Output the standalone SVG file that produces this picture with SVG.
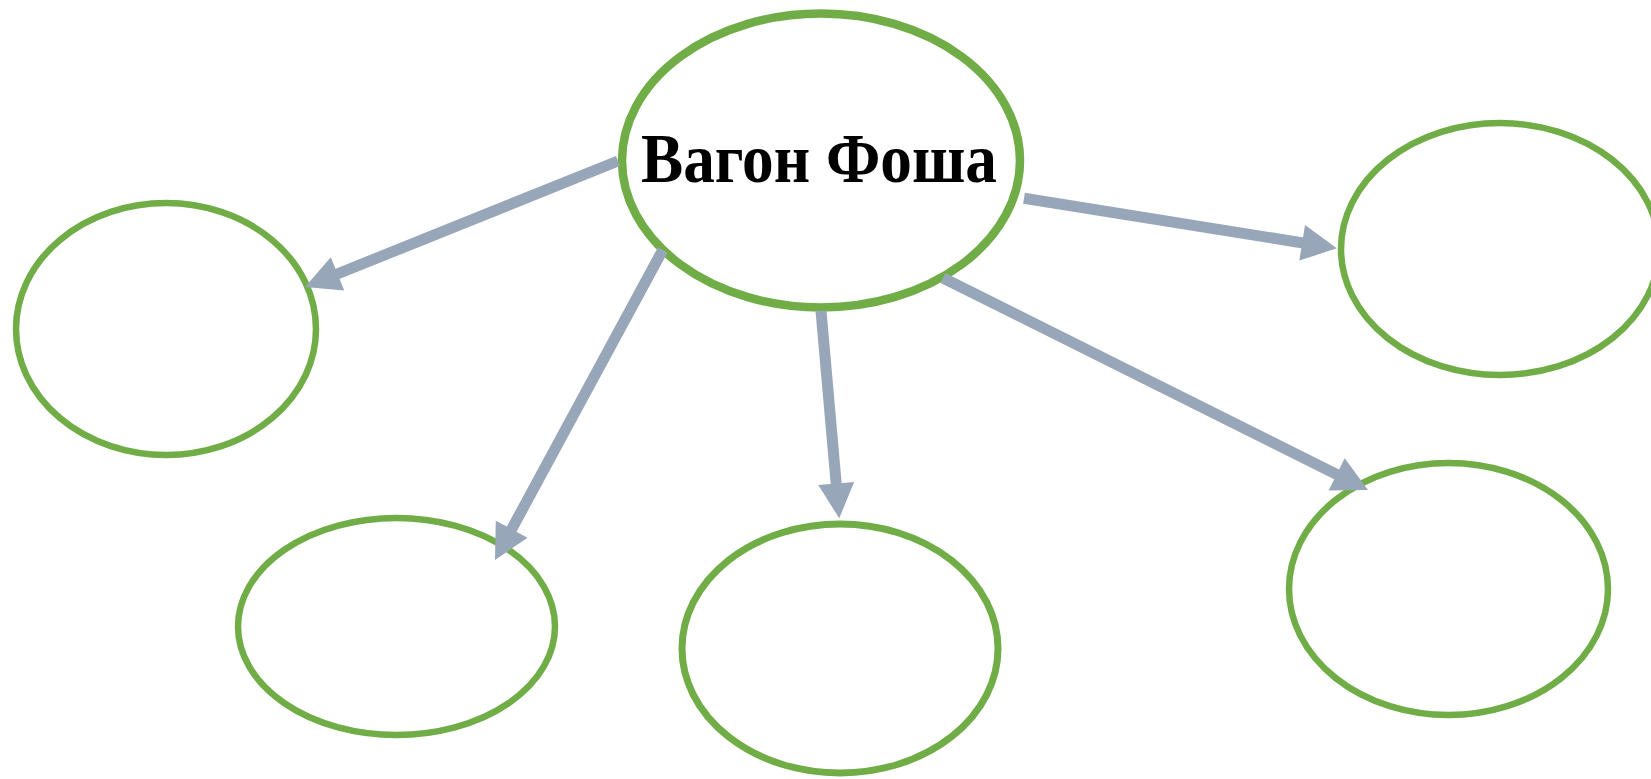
<svg xmlns="http://www.w3.org/2000/svg" width="1651" height="779" viewBox="0 0 1651 779">
  <style>
    .node { fill: #FFFFFF; stroke: #70AD47; stroke-width: 6.5; }
    .main { stroke-width: 8.5; }
    .conn { stroke: #97A6B8; stroke-width: 11; fill: none; marker-end: url(#arrow); }
    .title { font-family: "Liberation Serif", "Times New Roman", serif; font-weight: bold; font-size: 69px; fill: #000000; }
  </style>
  <defs>
    <marker id="arrow" markerUnits="userSpaceOnUse" markerWidth="36" markerHeight="36" refX="15" refY="18" orient="auto" overflow="visible">
      <path d="M0,0 L35,18 L0,36 Z" fill="#97A6B8"/>
    </marker>
  </defs>
  <rect width="1651" height="779" fill="#FFFFFF"/>
  <g id="node-main">
    <ellipse class="node main" cx="821" cy="160.5" rx="199" ry="147"/>
    <text class="title" x="819" y="182" text-anchor="middle" textLength="356" lengthAdjust="spacingAndGlyphs">Вагон Фоша</text>
  </g>
  <g id="node-left">
    <ellipse class="node" cx="166" cy="329" rx="150" ry="126"/>
  </g>
  <g id="node-bottom-left">
    <ellipse class="node" cx="396.5" cy="626.5" rx="158.5" ry="108.5"/>
  </g>
  <g id="node-bottom-middle">
    <ellipse class="node" cx="840" cy="648.5" rx="158" ry="124.5" style="stroke-width:7"/>
  </g>
  <g id="node-right-top">
    <ellipse class="node" cx="1500" cy="249" rx="159" ry="126"/>
  </g>
  <g id="node-right-bottom">
    <ellipse class="node" cx="1448.5" cy="589" rx="159.5" ry="126"/>
  </g>
  <g id="connectors">
    <line class="conn" x1="618" y1="161" x2="323.6" y2="279.5"/>
    <line class="conn" x1="662.7" y1="250" x2="504.5" y2="542.4"/>
    <line class="conn" x1="821" y1="311" x2="837.5" y2="498.4"/>
    <line class="conn" x1="1024" y1="198.3" x2="1317" y2="245.2"/>
    <line class="conn" x1="943" y1="278" x2="1350.1" y2="481.1"/>
  </g>
</svg>
